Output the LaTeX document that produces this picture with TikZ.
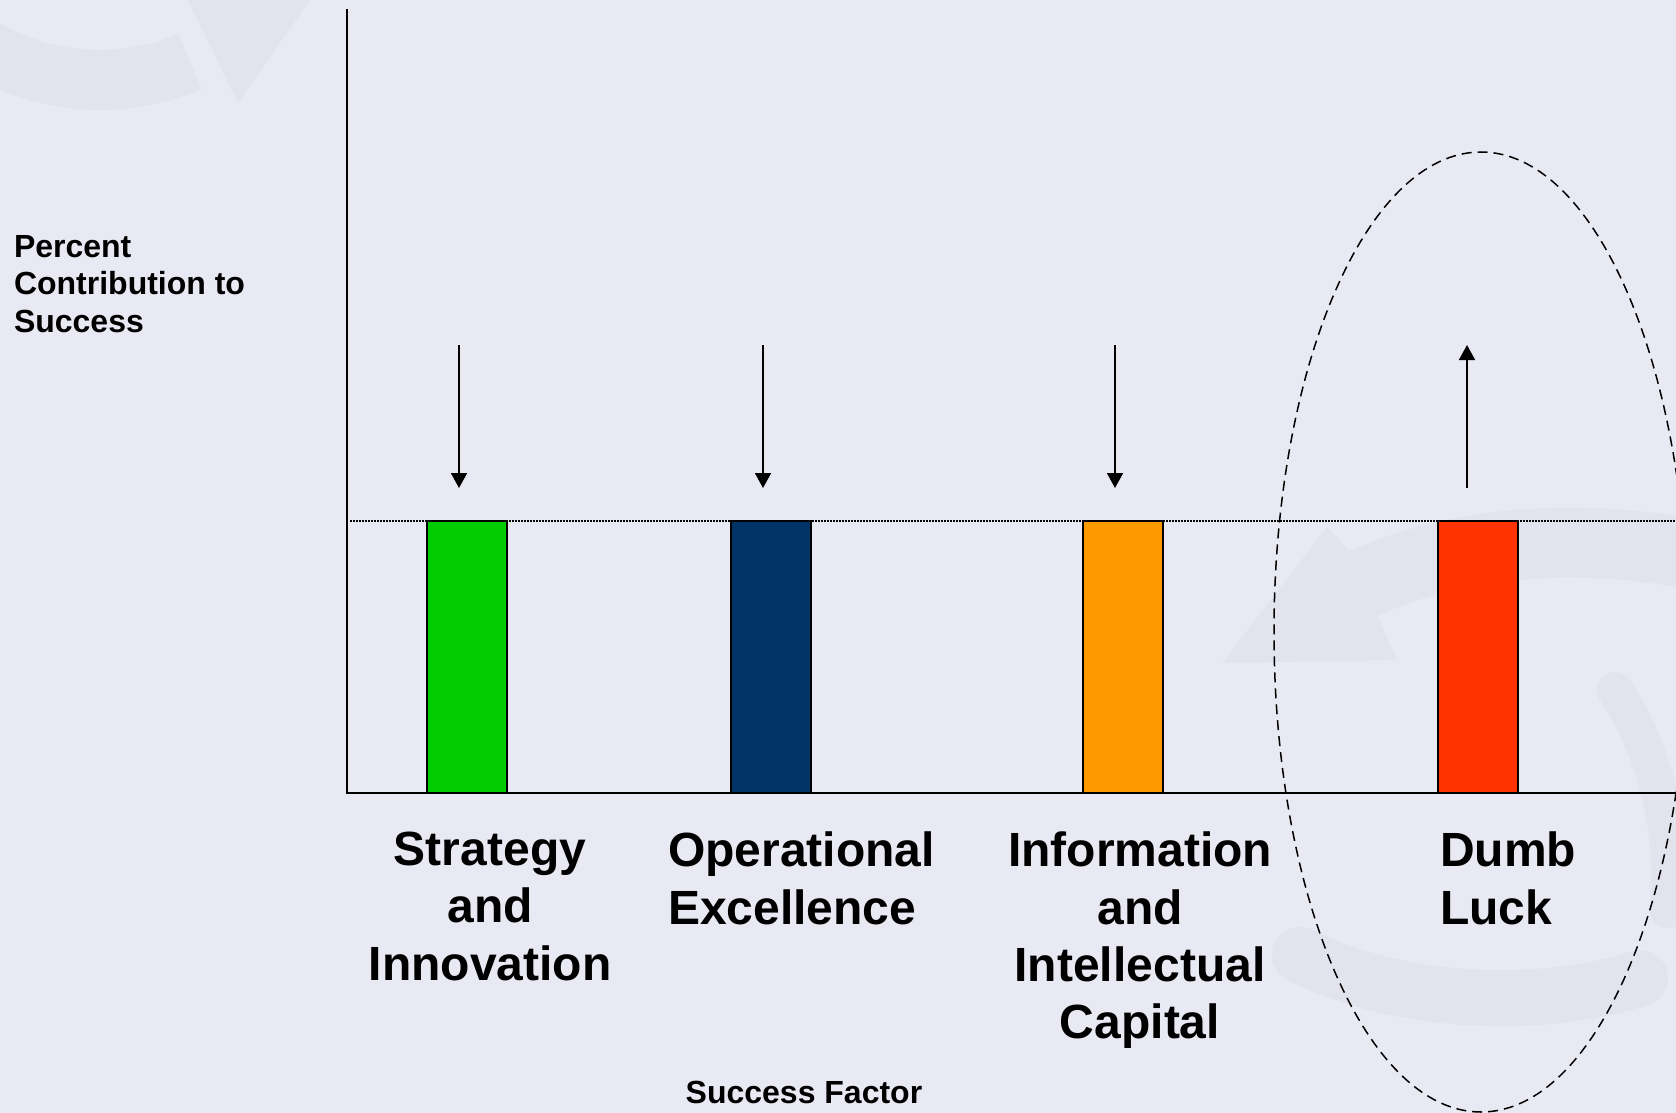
\documentclass[tikz,border=0pt]{standalone}
\usepackage{fontspec}
\setmainfont{Liberation Sans}
\usetikzlibrary{arrows.meta}
\definecolor{bg}{HTML}{E9E9F3}
\definecolor{wm}{HTML}{E3E3EE}
\definecolor{cgreen}{HTML}{00CC00}
\definecolor{cnavy}{HTML}{003366}
\definecolor{corange}{HTML}{FF9900}
\definecolor{cred}{HTML}{FF3300}
\begin{document}
\begin{tikzpicture}[x=0.5pt,y=-0.5pt,
  bar/.style={draw=black,line width=1pt,inner sep=0pt,outer sep=0pt,anchor=south west,minimum width=40pt,minimum height=136pt},
  axis/.style={line width=1.3pt},
  pointer/.style={line width=0.85pt,-{Triangle[width=8pt,length=7.5pt]}},
  lbl/.style={font=\bfseries\fontsize{24}{28.7}\selectfont,inner sep=0pt,outer sep=0pt},
  small/.style={font=\bfseries\fontsize{16}{18.75}\selectfont,inner sep=0pt,outer sep=0pt},
  level/.style={line width=0.65pt,dash pattern=on 0.8pt off 0.7pt},
  luck/.style={line width=0.75pt,dash pattern=on 5pt off 3pt},
  wmark/.style={fill=wm},
  wband/.style={draw=wm,line cap=round}
]
% page and background
\fill[bg] (0,0) rectangle (1676,1113);
\useasboundingbox (0,0) rectangle (1676,1113);
% faint watermark
\begin{scope}
\clip (0,0) rectangle (1676,1113);
\fill[wmark] (201.6,89.3) arc[start angle=67,end angle=160,radius=260]
   -- (-88,-81.6) arc[start angle=160,end angle=67,radius=200] -- cycle;
\fill[wmark] (183,-10) -- (317,-10) -- (238,103) -- cycle;
\fill[wmark] (1222,663) -- (1327,527) -- (1348,550) -- (1397,660) -- cycle;
\draw[wband,line width=35pt] (1365,583) .. controls (1470,535) and (1600,535) .. (1700,556);
\draw[wband,line width=18pt] (1615,690) .. controls (1655,750) and (1675,830) .. (1668,910);
\draw[wband,line width=28pt] (1300,955) .. controls (1400,1005) and (1540,1010) .. (1640,978);
\end{scope}
% level line
\coordinate (lvlL) at (350,521);
\coordinate (lvlR) at (1676,521);
\draw[level] (lvlL) -- (lvlR);
% luck ellipse
\draw[luck] (1481,632) ellipse [x radius=207, y radius=480];
% axes
\coordinate (ytop) at (347,9);
\coordinate (origin) at (347,793);
\coordinate (xend) at (1676,793);
\draw[axis] (ytop) -- (origin) -- (xend);
% bars
\node[bar,fill=cgreen] (b1) at (427,793) {};
\node[bar,fill=cnavy] (b2) at (731,793) {};
\node[bar,fill=corange] (b3) at (1083,793) {};
\node[bar,fill=cred] (b4) at (1438,793) {};
\draw[axis] (origin) -- (xend);
% arrows
\coordinate (a1s) at (459,345); \coordinate (a1e) at (459,488);
\coordinate (a2s) at (763,345); \coordinate (a2e) at (763,488);
\coordinate (a3s) at (1115,345); \coordinate (a3e) at (1115,488);
\coordinate (a4s) at (1467,488); \coordinate (a4e) at (1467,345);
\draw[pointer] (a1s) -- (a1e);
\draw[pointer] (a2s) -- (a2e);
\draw[pointer] (a3s) -- (a3e);
\draw[pointer] (a4s) -- (a4e);
% labels
\node[small,anchor=north west,align=left] (ylab) at (14,235) {Percent\\Contribution to\\Success};
\node[small,anchor=north] (xlab) at (804,1081) {Success Factor};
\node[lbl,anchor=north,align=center] (l1) at (490,832) {Strategy\\and\\Innovation};
\node[lbl,anchor=north west,align=left] (l2) at (668,832) {Operational\\Excellence};
\node[lbl,anchor=north,align=center] (l3) at (1140,832) {Information\\and\\Intellectual\\Capital};
\node[lbl,anchor=north west,align=left] (l4) at (1440,832) {Dumb\\Luck};
\end{tikzpicture}
\end{document}
